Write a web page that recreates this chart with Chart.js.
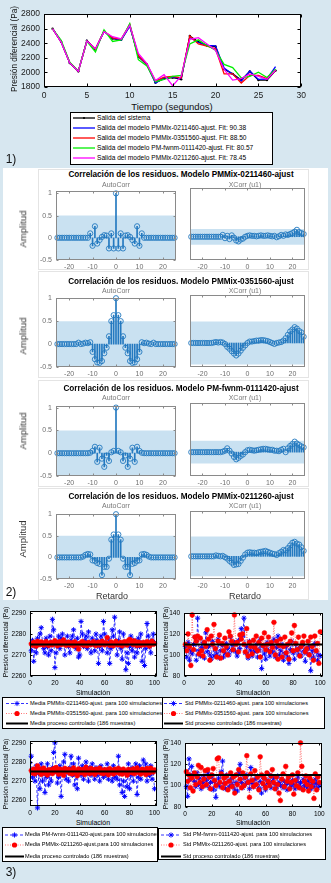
<!DOCTYPE html>
<html lang="es">
<head>
<meta charset="utf-8">
<title>Modelos PMMix - validación</title>
<script src="https://cdn.jsdelivr.net/npm/chart.js@4.4.1/dist/chart.umd.min.js"></script>
<style>
  body { margin: 0; width: 331px; height: 883px; position: relative; overflow: hidden; background: #d7e7f0; font-family: "Liberation Sans", Arial, sans-serif; }
  canvas { position: absolute; }
  .t { position: absolute; white-space: nowrap; line-height: 1; }
  .caja { position: absolute; background: #fff; border: 1px solid #000; box-sizing: border-box; }
  .marco { position: absolute; border: 1px solid #e4e4e4; box-sizing: border-box; }
</style>
</head>
<body>
<div style="position:absolute;left:3px;top:168px;width:325px;height:432px;background:#fff"></div>
<script>
// ---------- datos: 1) salida del sistema y de los modelos ----------
const tiempo = [1, 2, 3, 4, 5, 6, 7, 8, 9, 10, 11, 12, 13, 14, 15, 16, 17, 18, 19, 20, 21, 22, 23, 24, 25, 26, 27];
const salidaSistema = [2600, 2420, 2130, 2015, 2434, 2317, 2567, 2464, 2447, 2640, 2218, 2110, 1860, 1915, 1930, 1905, 2500, 2420, 2370, 2355, 2045, 1980, 1895, 2015, 1895, 1895, 2025];
const salida0211460 = [2600, 2420, 2130, 2015, 2434, 2317, 2560, 2470, 2440, 2635, 2225, 2105, 1855, 1925, 1935, 1915, 2480, 2410, 2370, 2365, 2060, 1975, 1880, 2020, 1905, 1910, 2080];
const salida0351560 = [2600, 2420, 2135, 2015, 2430, 2320, 2565, 2475, 2455, 2660, 2230, 2115, 1880, 1935, 1945, 1925, 2500, 2390, 2360, 2325, 1980, 1980, 1855, 1960, 1960, 1915, 2030];
const salidaFwnm0111420 = [2600, 2440, 2140, 2020, 2425, 2280, 2585, 2425, 2445, 2670, 2175, 2090, 1873, 1903, 1945, 1960, 2390, 2447, 2370, 2305, 2110, 2067, 1925, 1945, 2003, 1930, 2045];
const salida0211260 = [2600, 2415, 2130, 2015, 2430, 2325, 2560, 2490, 2460, 2645, 2260, 2120, 1890, 1970, 1817, 1950, 2455, 2477, 2390, 2305, 2040, 1895, 1916, 1980, 1945, 1905, 2030];

// ---------- datos: 2) correlación de los residuos ----------
const retardos = [-25, -24, -23, -22, -21, -20, -19, -18, -17, -16, -15, -14, -13, -12, -11, -10, -9, -8, -7, -6, -5, -4, -3, -2, -1, 0, 1, 2, 3, 4, 5, 6, 7, 8, 9, 10, 11, 12, 13, 14, 15, 16, 17, 18, 19, 20, 21, 22, 23, 24, 25];
const autoCorr0211460 = [0, 0, 0, 0, 0, 0, 0, 0, 0, 0, 0, 0, 0, 0, 0.1, -0.18, 0.26, -0.13, -0.05, 0.02, 0.06, 0.05, -0.24, 0.1, -0.24, 1, -0.24, 0.1, -0.24, 0.05, 0.06, 0.02, -0.05, -0.13, 0.26, -0.18, 0.1, 0, 0, 0, 0, 0, 0, 0, 0, 0, 0, 0, 0, 0, 0];
const xCorr0211460 = [0, 0, 0, 0, 0, 0, 0, 0, 0, 0, 0, 0, 0, 0, 0.04, -0.03, 0.02, -0.05, 0.03, -0.02, -0.08, -0.1, -0.06, -0.04, 0, 0.02, 0.03, 0.02, 0.02, 0.01, 0.02, 0.03, 0.02, 0.02, 0.03, 0.02, 0.01, 0.02, -0.01, 0.01, 0.04, 0.02, 0.05, 0.04, 0.06, 0.08, 0.11, 0.15, 0.1, 0.08, 0.06];
const autoCorr0351560 = [0, 0, 0, 0, 0, 0, 0, 0, 0, 0.03, 0, 0.01, 0.03, 0.02, 0.04, -0.17, -0.33, -0.4, -0.41, -0.37, -0.2, -0.08, 0.17, 0.5, 0.63, 1, 0.63, 0.5, 0.17, -0.08, -0.2, -0.37, -0.41, -0.4, -0.33, -0.17, 0.04, 0.02, 0.03, 0.01, 0, 0.03, 0, 0, 0, 0, 0, 0, 0, 0, 0];
const xCorr0351560 = [0, 0, 0, 0, 0, 0, 0, 0, 0, 0, 0.01, 0.02, 0.01, 0.02, 0.01, -0.02, -0.08, -0.12, -0.17, -0.22, -0.26, -0.22, -0.16, -0.1, -0.05, 0, 0.03, 0.03, 0.04, 0.05, 0.05, 0.06, 0.06, 0.05, 0.04, 0.02, 0, -0.02, 0, 0.01, 0.02, 0.05, 0.1, 0.17, 0.24, 0.28, 0.33, 0.3, 0.25, 0.22, 0.13];
const autoCorrFwnm0111420 = [0, 0, 0, 0, 0, 0, 0, 0, 0, 0, 0, 0, 0, 0, 0.01, 0.05, 0.14, -0.19, 0.12, -0.12, -0.3, -0.05, -0.17, 0.02, 0.05, 1, 0.05, 0.02, -0.17, -0.05, -0.3, -0.12, 0.12, -0.19, 0.14, 0.05, 0.01, 0, 0, 0, 0, 0, 0, 0, 0, 0, 0, 0, 0, 0, 0];
const xCorrFwnm0111420 = [0, 0, 0, 0, 0, 0, 0, 0, 0, 0, 0, 0, 0, 0, 0.01, 0.03, 0.08, 0.03, -0.03, -0.1, -0.15, -0.12, -0.08, -0.05, 0, 0.04, 0.05, 0.04, 0.03, 0.04, 0.05, 0.06, 0.07, 0.07, 0.06, 0.05, 0.05, 0.03, 0.03, 0.02, 0.05, 0.07, 0, 0.08, 0.13, 0.17, 0.22, 0.18, 0.15, 0.12, 0.1];
const autoCorr0211260 = [0, 0, 0, 0, 0, 0, 0, 0, 0, 0, 0, 0.02, 0.06, 0.08, 0.07, -0.07, -0.08, -0.13, -0.15, -0.41, -0.22, -0.22, -0.03, 0.41, 0.53, 1, 0.53, 0.41, -0.03, -0.22, -0.22, -0.41, -0.15, -0.13, -0.08, -0.07, 0.07, 0.08, 0.06, 0.02, 0, 0, 0, 0, 0, 0, 0, 0, 0, 0, 0];
const xCorr0211260 = [0, 0, 0, 0, 0, 0, 0, 0, 0, 0, 0, 0.02, 0.01, 0, 0.01, -0.02, -0.05, -0.1, -0.14, -0.19, -0.18, -0.17, -0.1, -0.03, 0.04, 0.08, 0.09, 0.08, 0.08, 0.07, 0.09, 0.1, 0.11, 0.12, 0.1, 0.08, 0.06, 0.05, 0.03, 0.07, 0.1, 0.14, 0.13, 0.18, 0.24, 0.3, 0.32, 0.28, 0.26, 0.2, 0.12];
const bandaAutoCorr = [0.5, 0.5, 0.5, 0.5];
const bandaXCorr = [0.17, 0.45, 0.24, 0.44];
const modelos = ['PMMix-0211460-ajust', 'PMMix-0351560-ajust', 'PM-fwnm-0111420-ajust', 'PMMix-0211260-ajust'];

// ---------- datos: 3) 100 simulaciones ----------
const simulaciones = [1, 2, 3, 4, 5, 6, 7, 8, 9, 10, 11, 12, 13, 14, 15, 16, 17, 18, 19, 20, 21, 22, 23, 24, 25, 26, 27, 28, 29, 30, 31, 32, 33, 34, 35, 36, 37, 38, 39, 40, 41, 42, 43, 44, 45, 46, 47, 48, 49, 50, 51, 52, 53, 54, 55, 56, 57, 58, 59, 60, 61, 62, 63, 64, 65, 66, 67, 68, 69, 70, 71, 72, 73, 74, 75, 76, 77, 78, 79, 80, 81, 82, 83, 84, 85, 86, 87, 88, 89, 90, 91, 92, 93, 94, 95, 96, 97, 98, 99, 100];
const media0211460 = [2272, 2277, 2267, 2274, 2271, 2278, 2275, 2280, 2283, 2276, 2273, 2271, 2278, 2274, 2270, 2279, 2272, 2287, 2282, 2264, 2271, 2276, 2279, 2273, 2278, 2280, 2277, 2270, 2276, 2279, 2274, 2271, 2277, 2279, 2282, 2275, 2273, 2278, 2269, 2270, 2286, 2280, 2274, 2277, 2279, 2273, 2281, 2276, 2271, 2278, 2275, 2272, 2280, 2277, 2266, 2274, 2279, 2272, 2286, 2280, 2276, 2271, 2278, 2266, 2273, 2282, 2279, 2288, 2275, 2270, 2277, 2281, 2273, 2268, 2280, 2276, 2263, 2271, 2266, 2274, 2279, 2272, 2277, 2269, 2275, 2271, 2278, 2274, 2280, 2267, 2276, 2265, 2273, 2285, 2279, 2274, 2271, 2277, 2280, 2276];
const media0351560 = [2275.3, 2274.6, 2276.1, 2275.0, 2274.2, 2276.5, 2275.8, 2274.9, 2276.2, 2275.4, 2274.7, 2275.9, 2276.4, 2275.1, 2274.5, 2275.7, 2276.0, 2274.8, 2275.5, 2276.8, 2275.2, 2274.4, 2275.9, 2276.3, 2274.9, 2275.6, 2277.2, 2275.0, 2274.6, 2275.8, 2276.1, 2274.7, 2275.3, 2275.9, 2274.3, 2276.2, 2275.4, 2274.8, 2272.8, 2275.6, 2275.1, 2276.4, 2274.6, 2275.8, 2275.2, 2274.4, 2276.0, 2275.5, 2274.9, 2275.7, 2276.3, 2275.0, 2274.5, 2275.8, 2276.1, 2274.7, 2275.4, 2276.6, 2275.2, 2274.8, 2275.9, 2278.3, 2275.3, 2274.6, 2276.2, 2275.0, 2274.4, 2275.7, 2276.5, 2275.1, 2274.8, 2275.6, 2276.0, 2274.3, 2275.5, 2276.3, 2275.1, 2274.7, 2276.8, 2277.4, 2276.9, 2275.4, 2274.9, 2276.7, 2275.2, 2274.5, 2276.1, 2275.8, 2274.6, 2275.3, 2276.0, 2274.8, 2275.5, 2276.4, 2275.0, 2274.2, 2275.9, 2276.6, 2275.1, 2275.4];
const std0211460 = [108, 98, 112, 95, 104, 101, 110, 117, 95, 135, 104, 99, 107, 112, 97, 121, 103, 108, 100, 96, 113, 99, 106, 101, 115, 97, 104, 109, 98, 102, 111, 106, 100, 117, 104, 109, 112, 103, 99, 114, 106, 125, 118, 135, 102, 108, 97, 113, 104, 99, 107, 103, 110, 98, 105, 115, 87, 108, 101, 96, 112, 104, 99, 109, 103, 115, 98, 107, 118, 100, 104, 110, 95, 101, 108, 98, 92, 105, 113, 102, 96, 110, 104, 100, 107, 99, 109, 103, 94, 106, 101, 108, 85, 104, 98, 111, 103, 95, 100, 99];
const std0351560 = [110, 104, 120, 108, 90, 138, 105, 117, 113, 118, 101, 116, 104, 99, 112, 108, 124, 115, 95, 118, 110, 129, 106, 98, 113, 119, 97, 111, 104, 116, 108, 100, 122, 118, 113, 105, 138, 110, 112, 103, 119, 115, 120, 110, 103, 125, 99, 112, 108, 101, 114, 107, 118, 104, 112, 98, 116, 109, 121, 105, 110, 117, 103, 112, 107, 131, 100, 113, 96, 109, 115, 98, 108, 117, 102, 110, 96, 113, 121, 104, 128, 111, 105, 117, 99, 108, 112, 118, 103, 106, 113, 100, 117, 108, 95, 118, 104, 111, 92, 122];
const mediaFwnm0111420 = [2283, 2272, 2276, 2270, 2278, 2256, 2274, 2266, 2279, 2270, 2276, 2264, 2272, 2279, 2268, 2274, 2270, 2277, 2285, 2290, 2275, 2269, 2272, 2278, 2262, 2274, 2280, 2284, 2271, 2276, 2270, 2277, 2283, 2273, 2279, 2268, 2275, 2266, 2282, 2276, 2273, 2278, 2271, 2276, 2280, 2274, 2270, 2277, 2273, 2279, 2275, 2271, 2277, 2273, 2276, 2270, 2278, 2274, 2272, 2276, 2273, 2279, 2271, 2276, 2274, 2270, 2278, 2272, 2275, 2271, 2283, 2268, 2276, 2264, 2270, 2262, 2274, 2267, 2279, 2266, 2273, 2277, 2270, 2275, 2279, 2263, 2272, 2278, 2271, 2276, 2281, 2274, 2279, 2270, 2276, 2273, 2278, 2271, 2275, 2266];
const media0211260 = [2275.5, 2274.2, 2276.3, 2273.8, 2275.9, 2278.0, 2274.6, 2276.4, 2273.5, 2275.7, 2276.8, 2274.1, 2275.4, 2273.2, 2276.0, 2274.7, 2275.8, 2273.9, 2276.5, 2274.9, 2277.1, 2275.2, 2273.6, 2276.3, 2274.4, 2275.9, 2273.0, 2276.7, 2274.8, 2275.5, 2276.2, 2274.0, 2275.6, 2273.7, 2276.9, 2274.5, 2275.3, 2272.8, 2276.4, 2275.0, 2274.3, 2276.1, 2275.7, 2273.4, 2277.3, 2274.9, 2275.5, 2273.9, 2276.6, 2274.6, 2275.8, 2273.5, 2276.3, 2274.7, 2275.1, 2276.8, 2274.2, 2275.6, 2273.8, 2276.0, 2274.5, 2275.9, 2273.3, 2276.5, 2274.9, 2275.4, 2273.7, 2276.2, 2274.4, 2275.8, 2276.7, 2274.0, 2275.5, 2273.6, 2276.3, 2274.8, 2275.2, 2273.1, 2276.1, 2274.6, 2275.7, 2274.3, 2276.4, 2273.9, 2275.6, 2276.9, 2274.5, 2275.3, 2273.7, 2276.2, 2274.8, 2275.9, 2273.4, 2276.6, 2275.1, 2274.2, 2276.8, 2275.4, 2274.7, 2275.9];
const stdFwnm0111420 = [99, 90, 125, 106, 118, 110, 104, 99, 112, 101, 107, 97, 103, 109, 100, 105, 112, 98, 103, 108, 96, 104, 89, 101, 107, 99, 113, 123, 102, 97, 110, 104, 99, 106, 101, 108, 96, 103, 95, 112, 120, 103, 98, 107, 101, 110, 104, 97, 117, 102, 99, 106, 101, 109, 97, 104, 93, 108, 100, 96, 105, 102, 110, 98, 104, 107, 101, 97, 109, 103, 100, 106, 98, 104, 101, 96, 107, 102, 99, 105, 101, 97, 104, 108, 99, 103, 97, 106, 100, 104, 98, 105, 101, 97, 103, 99, 106, 102, 98, 101];
const std0211260 = [113, 104, 110, 98, 107, 95, 112, 101, 108, 119, 103, 117, 99, 106, 114, 101, 115, 108, 97, 110, 116, 105, 100, 125, 126, 103, 111, 98, 107, 102, 109, 96, 104, 112, 99, 108, 93, 110, 101, 115, 106, 98, 112, 100, 108, 128, 103, 89, 111, 105, 99, 114, 101, 108, 96, 127, 110, 102, 107, 98, 112, 104, 100, 109, 115, 103, 97, 108, 101, 93, 86, 106, 111, 99, 118, 104, 108, 97, 103, 110, 92, 105, 100, 112, 98, 140, 118, 96, 104, 109, 101, 95, 107, 99, 104, 88, 111, 96, 108, 103];
const mediaProceso = 2275;
const stdProceso = 110;

// ---------- utilidades ----------
Chart.defaults.animation = false;
Chart.defaults.responsive = false;
Chart.defaults.font.family = '"Liberation Sans", Arial, sans-serif';
Chart.defaults.plugins.legend.display = false;
Chart.defaults.plugins.tooltip.enabled = false;

// fondo blanco del área de dibujo y caja con marcas hacia dentro (estilo MATLAB)
const marco = {
  id: 'marco',
  beforeDraw(chart, args, o) {
    if (!o.fondo) return;
    const a = chart.chartArea, ctx = chart.ctx;
    ctx.save();
    ctx.fillStyle = o.fondo;
    ctx.fillRect(a.left, a.top, a.right - a.left, a.bottom - a.top);
    ctx.restore();
  },
  afterDraw(chart, args, o) {
    if (!o.color) return;
    const a = chart.chartArea, ctx = chart.ctx;
    const L = Math.round(a.left) + 0.5, T = Math.round(a.top) + 0.5;
    const R = Math.round(a.right) - 0.5, B = Math.round(a.bottom) - 0.5;
    ctx.save();
    ctx.strokeStyle = o.color;
    ctx.lineWidth = 1;
    ctx.strokeRect(L, T, R - L, B - T);
    const m = o.marca || 0;
    if (m) {
      ctx.beginPath();
      const sx = chart.scales.x, sy = chart.scales.y;
      (sx.ticks || []).forEach(t => {
        const p = Math.round(sx.getPixelForValue(t.value)) + 0.5;
        ctx.moveTo(p, B); ctx.lineTo(p, B - m);
        ctx.moveTo(p, T); ctx.lineTo(p, T + m);
      });
      if (sy.options.display) {
        (sy.ticks || []).forEach(t => {
          const p = Math.round(sy.getPixelForValue(t.value)) + 0.5;
          ctx.moveTo(L, p); ctx.lineTo(L + m, p);
          ctx.moveTo(R, p); ctx.lineTo(R - m, p);
        });
      }
      ctx.stroke();
    }
    ctx.restore();
  }
};
Chart.register(marco);

function puntos(xs, ys) {
  return xs.map((x, i) => ({ x: x, y: ys[i] }));
}

// canvas colocado para que el área de dibujo caiga en "caja"
function lienzo(caja, anchoY, altoX) {
  const c = document.createElement('canvas');
  const L = caja.l - anchoY, T = caja.t - 5;
  const W = caja.r + 8 - L, H = caja.b + altoX - T;
  c.width = W; c.height = H;
  c.style.left = L + 'px'; c.style.top = T + 'px';
  c.style.width = W + 'px'; c.style.height = H + 'px';
  document.body.appendChild(c);
  return c;
}

function eje(min, max, marcas, tam, fuente, color, pad, mostrar) {
  const visible = mostrar !== false;
  return {
    type: 'linear', min: min, max: max, display: visible,
    afterBuildTicks: s => { s.ticks = marcas.map(v => ({ value: v })); },
    afterFit: s => {
      if (!visible) return;
      if (s.isHorizontal()) s.height = tam; else s.width = tam;
    },
    grid: { display: false, drawTicks: false },
    border: { display: false },
    ticks: { padding: pad, color: color, font: { size: fuente }, autoSkip: false, maxRotation: 0, callback: v => String(v) }
  };
}

const relleno = { left: 0, top: 5, right: 8, bottom: 0 };

function texto(s, x, y, estilo, girar) {
  const d = document.createElement('div');
  d.className = 't';
  d.textContent = s;
  d.style.cssText += 'left:' + x + 'px;top:' + y + 'px;' + (estilo || '');
  d.style.transform = 'translate(-50%,-50%)' + (girar ? ' rotate(-90deg)' : '');
  document.body.appendChild(d);
  return d;
}

function leyenda(caja, items, muestra, xTexto, fuente) {
  const d = document.createElement('div');
  d.className = 'caja';
  d.style.left = caja.l + 'px'; d.style.top = caja.t + 'px';
  d.style.width = caja.w + 'px'; d.style.height = caja.h + 'px';
  let svg = '<svg width="' + caja.w + '" height="' + caja.h + '" style="position:absolute;left:-1px;top:-1px">';
  items.forEach(it => {
    svg += '<line x1="' + muestra[0] + '" y1="' + it.y + '" x2="' + muestra[1] + '" y2="' + it.y + '" stroke="' + it.color + '" stroke-width="' + it.ancho + '"' + (it.dash ? ' stroke-dasharray="' + it.dash + '"' : '') + '/>';
    const cx = (muestra[0] + muestra[1]) / 2, cy = it.y, cm = it.colorMarca || it.color;
    if (it.marca === 'estrella') {
      const r = 2.6, q = 1.9;
      svg += '<path d="M' + (cx - r) + ' ' + cy + 'H' + (cx + r) + 'M' + cx + ' ' + (cy - r) + 'V' + (cy + r) + 'M' + (cx - q) + ' ' + (cy - q) + 'L' + (cx + q) + ' ' + (cy + q) + 'M' + (cx - q) + ' ' + (cy + q) + 'L' + (cx + q) + ' ' + (cy - q) + '" stroke="' + cm + '" stroke-width="0.9" fill="none"/>';
    } else if (it.marca === 'circulo') {
      svg += '<circle cx="' + cx + '" cy="' + cy + '" r="2.6" fill="' + cm + '"/>';
    } else if (it.marca === 'punto') {
      svg += '<circle cx="' + cx + '" cy="' + cy + '" r="1.1" fill="' + cm + '"/>';
    }
  });
  svg += '</svg>';
  d.innerHTML = svg;
  items.forEach(it => {
    const s = document.createElement('div');
    s.className = 't';
    s.textContent = it.texto;
    s.style.left = (xTexto - 1) + 'px';
    s.style.top = (it.y - 1) + 'px';
    s.style.fontSize = fuente + 'px';
    s.style.transform = 'translateY(-50%)';
    d.appendChild(s);
  });
  document.body.appendChild(d);
}

// ---------- 1) salida del sistema vs modelos ----------
(function () {
  const caja = { l: 44, t: 10, r: 302, b: 87 };
  const series = [
    { data: salidaSistema, color: '#000000', orden: 5, punto: 1.2 },
    { data: salida0211460, color: '#0000ff', orden: 4, punto: 0 },
    { data: salida0351560, color: '#ff0000', orden: 3, punto: 0 },
    { data: salidaFwnm0111420, color: '#00ee00', orden: 2, punto: 0 },
    { data: salida0211260, color: '#ff00ff', orden: 1, punto: 0 }
  ];
  new Chart(lienzo(caja, 44, 14), {
    type: 'line',
    data: {
      datasets: series.map(s => ({
        data: puntos(tiempo, s.data), borderColor: s.color, backgroundColor: s.color,
        borderWidth: 1.3, pointRadius: s.punto, pointBorderWidth: 0, order: s.orden
      }))
    },
    options: {
      layout: { padding: relleno },
      scales: {
        x: eje(0, 30, [0, 5, 10, 15, 20, 25, 30], 14, 8.5, '#1a1a1a', 4),
        y: eje(1800, 2800, [1800, 2000, 2200, 2400, 2600, 2800], 44, 8.5, '#1a1a1a', 4)
      },
      plugins: { marco: { fondo: '#ffffff', color: '#000000', marca: 3 } }
    }
  });
  texto('Tiempo (segundos)', 172, 107, 'font-size:9.5px;color:#111');
  texto('Presión diferencial (Pa)', 14, 49, 'font-size:8.3px;color:#111', true);
  leyenda({ l: 70, t: 112, w: 203, h: 53 }, [
    { y: 6, texto: 'Salida del sistema', color: '#000', ancho: 1.3, marca: 'punto' },
    { y: 16, texto: 'Salida del modelo PMMix-0211460-ajust. Fit: 90.38', color: '#0000ff', ancho: 1.3 },
    { y: 26, texto: 'Salida del modelo PMMix-0351560-ajust. Fit: 88.50', color: '#ff0000', ancho: 1.3 },
    { y: 36, texto: 'Salida del modelo PM-fwnm-0111420-ajust. Fit: 80.57', color: '#00ee00', ancho: 1.3 },
    { y: 46, texto: 'Salida del modelo PMMix-0211260-ajust. Fit: 78.45', color: '#ff00ff', ancho: 1.3 }
  ], [3, 25], 27, 6.6);
  texto('1)', 11, 159, 'font-size:12px;color:#111');
})();

// ---------- 2) correlación de los residuos ----------
const posPaneles = [
  { marco: [169, 270], titulo: 175, sub: 184, t: 188, b: 260, ymax: 1.05, amp: 229 },
  { marco: [271, 378], titulo: 282, sub: 290, t: 295, b: 367, ymax: 1.0, amp: 336 },
  { marco: [380, 487], titulo: 389, sub: 397, t: 403, b: 476, ymax: 1.03, amp: 431 },
  { marco: [488, 600], titulo: 497, sub: 505, t: 511, b: 579, ymax: 1.0, amp: 539 }
];
const autoCorr = [autoCorr0211460, autoCorr0351560, autoCorrFwnm0111420, autoCorr0211260];
const xCorr = [xCorr0211460, xCorr0351560, xCorrFwnm0111420, xCorr0211260];
const azulStem = '#2479c0';
const azulBanda = 'rgba(0,114,189,0.21)';

function correlacion(caja, valores, banda, ymax, conEjeY) {
  const anchoY = conEjeY ? 56 : 0;
  new Chart(lienzo(caja, anchoY, 13), {
    type: 'bar',
    data: {
      datasets: [
        { type: 'scatter', data: puntos(retardos, valores), pointStyle: 'circle', pointRadius: 2.6,
          pointBorderColor: azulStem, pointBackgroundColor: 'rgba(0,0,0,0)', pointBorderWidth: 0.9, clip: false, order: 1 },
        { type: 'bar', data: puntos(retardos, valores), backgroundColor: azulStem, barThickness: 1, order: 2 },
        { type: 'line', data: [{ x: -25.6, y: banda }, { x: 25.6, y: banda }], borderWidth: 0, pointRadius: 0,
          fill: { value: -banda }, backgroundColor: azulBanda, order: 3 }
      ]
    },
    options: {
      layout: { padding: relleno },
      scales: {
        x: Object.assign(eje(-25.6, 25.6, [-20, -10, 0, 10, 20], 13, 7, '#6e6e6e', 3), { offset: false }),
        y: eje(-0.5, ymax, [-0.5, 0, 0.5, 1], 56, 7, '#6e6e6e', 4, conEjeY)
      },
      plugins: { marco: { fondo: '#ffffff', color: '#8a8a8a', marca: 2 } }
    }
  });
}

posPaneles.forEach((p, i) => {
  const f = document.createElement('div');
  f.className = 'marco';
  f.style.left = '38px'; f.style.top = p.marco[0] + 'px';
  f.style.width = '271px'; f.style.height = (p.marco[1] - p.marco[0]) + 'px';
  document.body.appendChild(f);
  correlacion({ l: 56, t: p.t, r: 176, b: p.b }, autoCorr[i], bandaAutoCorr[i], p.ymax, true);
  correlacion({ l: 185, t: p.t, r: 305, b: p.b }, xCorr[i], bandaXCorr[i], p.ymax, false);
  texto('Correlación de los residuos. Modelo ' + modelos[i], 181, p.titulo, 'font-size:8.2px;font-weight:bold;color:#000');
  texto('AutoCorr', 116, p.sub, 'font-size:7px;color:#777');
  texto('XCorr (u1)', 245, p.sub, 'font-size:7px;color:#777');
  texto('Amplitud', 23, p.amp, 'font-size:9.5px;color:#333', true);
});
texto('Retardo', 112, 596, 'font-size:9px;color:#333');
texto('Retardo', 245, 596, 'font-size:9px;color:#333');
texto('2)', 11, 592, 'font-size:12px;color:#111');

// ---------- 3) media y desviación típica en 100 simulaciones ----------
function simulacion(caja, anchoY, ymin, ymax, marcasY, azul, rojo, ref) {
  new Chart(lienzo(caja, anchoY, 12), {
    type: 'line',
    data: {
      datasets: [
        { data: [{ x: 0, y: ref }, { x: 102, y: ref }], borderColor: '#000', borderWidth: 2, pointRadius: 0, order: 1 },
        { data: puntos(simulaciones, rojo), borderColor: 'rgba(255,0,0,0.7)', borderWidth: 0.8, borderDash: [1, 1.5],
          pointStyle: 'circle', pointRadius: 2.4, pointBackgroundColor: '#ff0000', pointBorderColor: '#ff0000',
          pointBorderWidth: 0.5, clip: false, order: 2 },
        { data: puntos(simulaciones, azul), borderColor: '#0000ff', borderWidth: 0.8, borderDash: [3, 2],
          pointStyle: 'star', pointRadius: 2.6, pointBorderColor: '#0000ff', pointBorderWidth: 1, clip: false, order: 3 }
      ]
    },
    options: {
      layout: { padding: relleno },
      scales: {
        x: eje(0, 102, [0, 20, 40, 60, 80, 100], 12, 6.5, '#000', 3),
        y: eje(ymin, ymax, marcasY, anchoY, 6.5, '#000', 4)
      },
      plugins: { marco: { fondo: '#ffffff', color: '#000000', marca: 2 } }
    }
  });
}

simulacion({ l: 30, t: 608, r: 157, b: 676 }, 30, 2260, 2291, [2260, 2270, 2280, 2290], media0211460, media0351560, mediaProceso);
simulacion({ l: 184, t: 610, r: 323, b: 676 }, 24, 80, 140, [80, 100, 120, 140], std0211460, std0351560, stdProceso);
simulacion({ l: 30, t: 738, r: 157, b: 806 }, 30, 2257, 2291, [2260, 2270, 2280, 2290], mediaFwnm0111420, media0211260, mediaProceso);
simulacion({ l: 185, t: 740, r: 322, b: 807 }, 25, 80, 140, [80, 100, 120, 140], stdFwnm0111420, std0211260, stdProceso);

texto('Simulación', 93, 692, 'font-size:7px;color:#000');
texto('Simulación', 253, 692, 'font-size:7px;color:#000');
texto('Simulación', 93, 822, 'font-size:7px;color:#000');
texto('Simulación', 253, 822, 'font-size:7px;color:#000');
texto('Presión diferencial (Pa)', 6, 642, 'font-size:6.8px;color:#000', true);
texto('Presión diferencial (Pa)', 166, 642, 'font-size:6.8px;color:#000', true);
texto('Presión diferencial (Pa)', 6, 774, 'font-size:6.8px;color:#000', true);
texto('Presión diferencial (Pa)', 166, 774, 'font-size:6.8px;color:#000', true);

const estiloAzul = { color: '#0000ff', ancho: 0.8, dash: '3 2', marca: 'estrella' };
const estiloRojo = { color: 'rgba(255,0,0,0.7)', colorMarca: '#ff0000', ancho: 0.8, dash: '1 1.5', marca: 'circulo' };
const estiloNegro = { color: '#000', ancho: 2 };

leyenda({ l: 2, t: 697, w: 161, h: 32 }, [
  Object.assign({ y: 6.5, texto: 'Media PMMix-0211460-ajust. para 100 simulaciones' }, estiloAzul),
  Object.assign({ y: 16.5, texto: 'Media PMMix-0351560-ajust. para 100 simulaciones' }, estiloRojo),
  Object.assign({ y: 26.5, texto: 'Media proceso controlado (186 muestras)' }, estiloNegro)
], [4, 26], 28, 5.7);
leyenda({ l: 162, t: 697, w: 163, h: 32 }, [
  Object.assign({ y: 6.5, texto: 'Std  PMMix-0211460-ajust.  para  100  simulaciones' }, estiloAzul),
  Object.assign({ y: 16.5, texto: 'Std  PMMix-0351560-ajust.  para  100  simulaciones' }, estiloRojo),
  Object.assign({ y: 26.5, texto: 'Std proceso controlado (186 muestras)' }, estiloNegro)
], [2, 21], 23, 5.6);
leyenda({ l: 2, t: 827, w: 156, h: 35 }, [
  Object.assign({ y: 8, texto: 'Media PM-fwnm-0111420-ajust.para 100 simulaciones' }, estiloAzul),
  Object.assign({ y: 18, texto: 'Media PMMix-0211260-ajust.para 100 simulaciones' }, estiloRojo),
  Object.assign({ y: 29.5, texto: 'Media proceso controlado (186 muestras)' }, estiloNegro)
], [3, 22], 23, 5.6);
leyenda({ l: 158, t: 828, w: 168, h: 32 }, [
  Object.assign({ y: 7, texto: 'Std  PM-fwnm-0111420-ajust.  para  100  simulaciones' }, estiloAzul),
  Object.assign({ y: 17, texto: 'Std  PMMix-0211260-ajust.  para  100  simulaciones' }, estiloRojo),
  Object.assign({ y: 28.5, texto: 'Std proceso controlado (186 muestras)' }, estiloNegro)
], [3, 23], 25, 5.6);
texto('3)', 11, 872, 'font-size:12px;color:#111');
</script>
</body>
</html>
